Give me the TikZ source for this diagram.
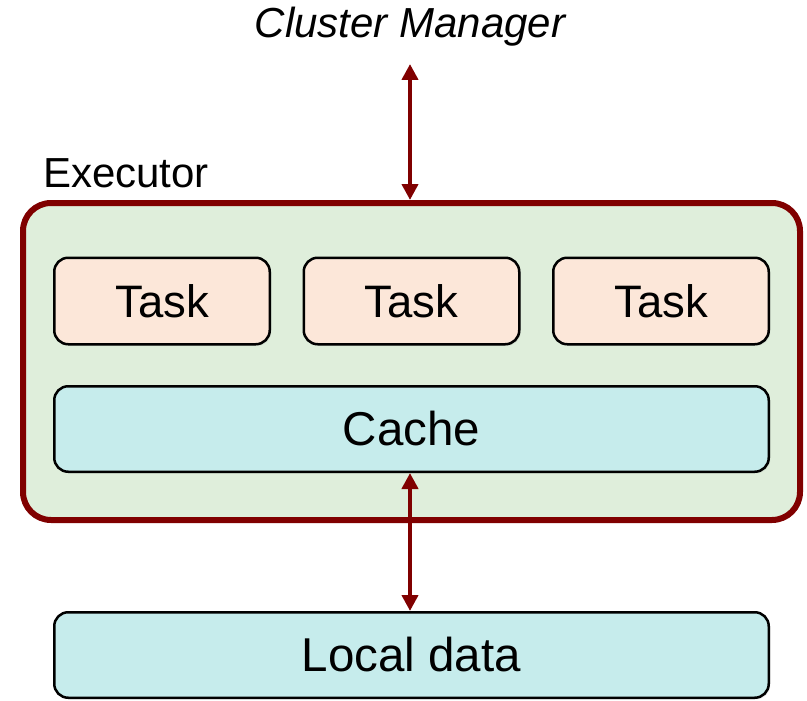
\documentclass[tikz,border=0pt]{standalone}
\usepackage{fontspec}
\setmainfont{Liberation Sans}
\usetikzlibrary{arrows.meta,shadows}
\definecolor{execred}{HTML}{800000}
\definecolor{execfill}{HTML}{DFEEDB}
\definecolor{taskfill}{HTML}{FCE7D9}
\definecolor{cachefill}{HTML}{C6ECEC}
\tikzset{
  softshadow/.style={drop shadow={opacity=0.18,shadow xshift=1.5pt,shadow yshift=-1.5pt}},
  execbox/.style={draw=execred,line width=6pt,fill=execfill,rounded corners=28pt,softshadow},
  taskbox/.style={draw=black,line width=2.5pt,fill=taskfill,rounded corners=14pt,softshadow,
    minimum width=215.5pt,minimum height=86.5pt,inner sep=0pt,font=\fontsize{45.5}{52}\selectfont},
  cachebox/.style={draw=black,line width=2.5pt,fill=cachefill,rounded corners=14pt,softshadow,
    minimum width=714.5pt,minimum height=85.5pt,inner sep=0pt,font=\fontsize{47.5}{54}\selectfont},
  label/.style={inner sep=0pt,font=\fontsize{42}{48}\selectfont},
  link/.style={draw=execred,line width=4pt,{Triangle[width=16pt,length=16pt]}-{Triangle[width=16pt,length=16pt]}},
}
\begin{document}
\begin{tikzpicture}[x=1pt,y=-1pt]
  \useasboundingbox (0,0) rectangle (807,701);
  % executor container
  \node[execbox,minimum width=777pt,minimum height=317pt,inner sep=0pt] (exec) at (411.5,361.5) {};
  \node[label,anchor=west] (execlabel) at (43,173) {Executor};
  % tasks and cache inside the executor
  \node[taskbox] (t1) at (162,301) {Task};
  \node[taskbox] (t2) at (411.5,301) {Task};
  \node[taskbox] (t3) at (661,301) {Task};
  \node[cachebox] (cache) at (411.5,429) {Cache};
  % local storage below
  \node[cachebox] (local) at (411.5,655) {Local data};
  % cluster manager above
  \node[label,font=\fontsize{42}{48}\selectfont\itshape] (cm) at (410,27) {Cluster Manager};
  \coordinate (cmend) at (410,64);
  % connectors
  \draw[link] (cmend) -- (cmend |- exec.north);
  \draw[link] (cache.south -| cmend) -- (local.north -| cmend);
\end{tikzpicture}
\end{document}
